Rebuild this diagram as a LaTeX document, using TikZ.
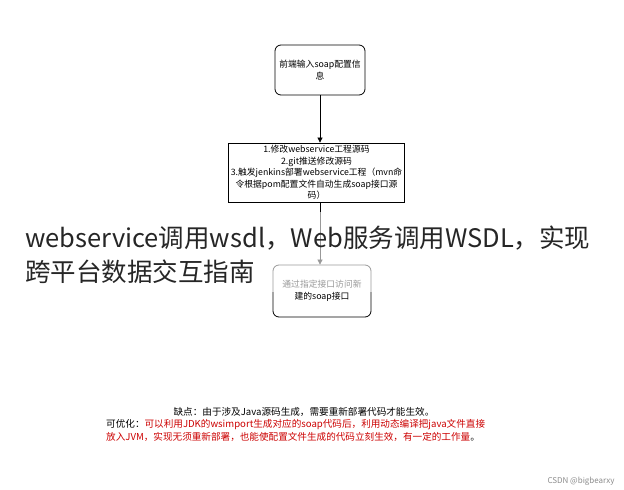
\documentclass[tikz,border=0pt]{standalone}
\usepackage{fontspec}
\setmainfont{Noto Sans CJK SC}
\usetikzlibrary{arrows.meta}
\begin{document}
\begin{tikzpicture}[x=1pt,y=-1pt,
  box/.style={draw,line width=0.8pt,align=center,font=\fontsize{8.8}{11.5}\selectfont,inner sep=2pt},
  arr/.style={-{Triangle[length=5pt,width=5pt]},line width=0.7pt}]
\useasboundingbox[fill=white] (0,0) rectangle (624,490);
\node[box,rounded corners=6pt,minimum width=90pt,minimum height=50pt] (a) at (320,70) {前端输入soap配置信\\息};
\node[box,minimum width=173pt,minimum height=59pt] (b) at (316.5,172.5) {1.修改webservice工程源码\\2.git推送修改源码\\3.触发jenkins部署webservice工程（mvn命\\令根据pom配置文件自动生成soap接口源\\码）};
\node[box,rounded corners=6pt,minimum width=98pt,minimum height=52pt] (c) at (322,291) {通过指定接口访问新\\建的soap接口};
\draw[arr] (a.south) -- (a.south |- b.north);
\draw[arr] (b.south -| a.south) -- (c.north -| a.south);
\fill[white,opacity=0.6] (0,212) rectangle (610,292);
\node[anchor=west,font=\fontsize{25.5}{30}\selectfont,text=black!85,inner sep=0pt] (t1) at (25,238) {webservice调用wsdl，Web服务调用WSDL，实现};
\node[anchor=west,font=\fontsize{25.5}{30}\selectfont,text=black!85,inner sep=0pt] (t2) at (25,272) {跨平台数据交互指南};
\node[font=\fontsize{9.6}{10}\selectfont] (n1) at (304,412) {缺点：由于涉及Java源码生成，需要重新部署代码才能生效。};
\node[anchor=north west,align=left,font=\fontsize{9.6}{13.5}\selectfont,inner sep=0pt] (n2) at (106,419) {可优化：\textcolor{red!80!black}{可以利用JDK的wsimport生成对应的soap代码后，利用动态编译把java文件直接}\\\textcolor{red!80!black}{放入JVM，实现无须重新部署，也能使配置文件生成的代码立刻生效，有一定的工作量}。};
\node[anchor=east,font=\fontsize{8}{10}\selectfont,text=black!45] (w) at (618,481) {CSDN @bigbearxy};
\end{tikzpicture}
\end{document}
